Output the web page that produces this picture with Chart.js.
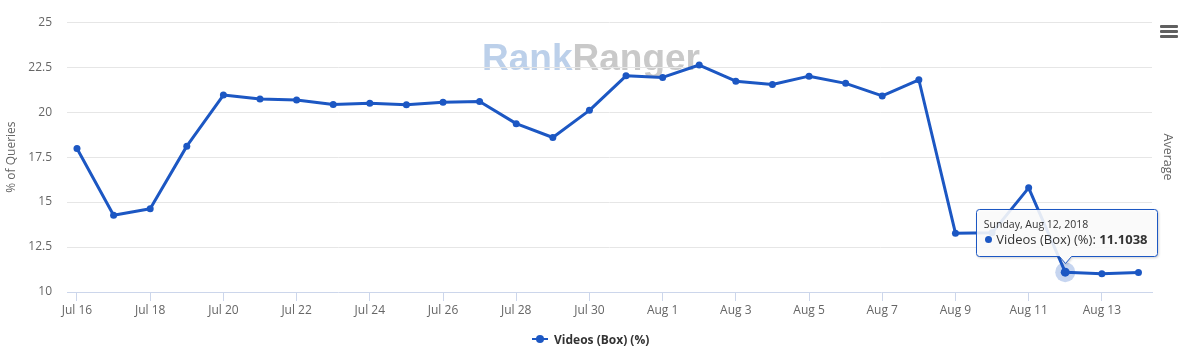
<!DOCTYPE html>
<html>
<head>
<meta charset="utf-8">
<script src="https://cdn.jsdelivr.net/npm/chart.js@4.4.1/dist/chart.umd.min.js"></script>
<style>
html,body{margin:0;padding:0;background:#fff;}
#wrap{position:relative;width:1192px;height:361px;overflow:hidden;font-family:'Open Sans',sans-serif;}
canvas{display:block;}
#menu{position:absolute;left:1160px;top:25px;width:18px;height:13px;}
#menu span{position:absolute;left:0;width:18px;height:2.6px;background:#606060;border-radius:1px;}
#legend{position:absolute;left:532px;top:331px;height:16px;display:flex;align-items:center;font-weight:bold;font-size:12px;color:#333;white-space:nowrap;}
#legend span{margin-left:6px;}
#tip{position:absolute;width:184px;height:58px;}
#tip svg{position:absolute;left:0;top:0;filter:drop-shadow(1px 1px 1px rgba(0,0,0,0.18));}
#tip .tt-title{position:absolute;left:8px;top:9px;font-size:10.5px;line-height:12px;color:#333;white-space:nowrap;}
#tip .tt-body{position:absolute;left:9.5px;top:22px;font-size:13px;line-height:16px;color:#333;white-space:nowrap;display:flex;align-items:center;}
#tip .dot{display:inline-block;width:7px;height:7px;border-radius:50%;margin-right:4px;}
</style>
</head>
<body>
<div id="wrap">
  <canvas id="c" width="1192" height="361" style="width:1192px;height:361px"></canvas>
  <div id="menu"><span style="top:0"></span><span style="top:5px"></span><span style="top:10px"></span></div>
  <div id="legend"></div>
  <div id="tip"></div>
</div>
<script>
const dates = ['Jul 16','Jul 17','Jul 18','Jul 19','Jul 20','Jul 21','Jul 22','Jul 23','Jul 24','Jul 25',
  'Jul 26','Jul 27','Jul 28','Jul 29','Jul 30','Jul 31','Aug 1','Aug 2','Aug 3','Aug 4',
  'Aug 5','Aug 6','Aug 7','Aug 8','Aug 9','Aug 10','Aug 11','Aug 12','Aug 13','Aug 14'];
const videosBox = [17.98, 14.27, 14.63, 18.11, 20.95, 20.73, 20.68, 20.42, 20.49, 20.41,
  20.55, 20.59, 19.36, 18.59, 20.1, 22.02, 21.93, 22.62, 21.72, 21.54,
  22.0, 21.6, 20.9, 21.8, 13.27, 13.29, 15.79, 11.1038, 11.02, 11.09];
const yTicks = [10, 12.5, 15, 17.5, 20, 22.5, 25];
const xTickIndex = [0, 2, 4, 6, 8, 10, 12, 14, 16, 18, 20, 22, 24, 26, 28];
const seriesName = 'Videos (Box) (%)';
const tooltipTitle = 'Sunday, Aug 12, 2018';
const hoverIndex = 27;
const yTitle = '% of Queries';
const y2Title = 'Average';

const blue = '#1c57c3';
Chart.defaults.font.family = "'Open Sans', sans-serif";

const watermark = {
  id: 'watermark',
  beforeDraw(c) {
    const g = c.ctx;
    g.save();
    g.font = 'bold 37px "Liberation Sans", Arial, sans-serif';
    g.textBaseline = 'alphabetic';
    const x0 = 482, y0 = 70;
    g.fillStyle = '#bcd0ea';
    g.fillText('Rank', x0, y0);
    const w = g.measureText('Rank').width;
    g.fillStyle = '#c9c9c9';
    g.fillText('Ranger', x0 + w, y0);
    g.restore();
  }
};
const halo = {
  id: 'halo',
  beforeDatasetsDraw(c) {
    const p = c.getDatasetMeta(0).data[hoverIndex];
    if (!p) return;
    const g = c.ctx;
    g.save();
    g.beginPath();
    g.arc(p.x, p.y, 10, 0, Math.PI * 2);
    g.fillStyle = 'rgba(28,87,195,0.25)';
    g.fill();
    g.restore();
  }
};

const chart = new Chart(document.getElementById('c'), {
  type: 'line',
  data: {
    datasets: [{
      label: seriesName,
      data: videosBox.map((v, i) => ({x: i, y: v})),
      borderColor: blue,
      backgroundColor: blue,
      borderWidth: 3,
      borderJoinStyle: 'round',
      borderCapStyle: 'round',
      tension: 0,
      fill: false,
      pointRadius: c => c.dataIndex === hoverIndex ? 4.5 : 3.5,
      pointBackgroundColor: blue,
      pointBorderWidth: 0,
      yAxisID: 'y'
    }]
  },
  options: {
    responsive: false,
    animation: false,
    devicePixelRatio: 1,
    events: [],
    layout: {padding: {top: 19, left: 0, right: 0, bottom: 0}},
    plugins: {legend: {display: false}, tooltip: {enabled: false}},
    scales: {
      x: {
        type: 'linear', min: -0.273, max: 29.37,
        afterBuildTicks: s => { s.ticks = xTickIndex.map(v => ({value: v})); },
        afterFit: s => { s.height = 69; },
        ticks: {autoSkip: false, maxRotation: 0, minRotation: 0, padding: 2, color: '#666',
          font: {size: 12}, callback: v => dates[v]},
        grid: {display: true, drawOnChartArea: false, drawTicks: true, tickLength: 9, color: '#ccd6eb'},
        border: {display: true, color: '#ccd6eb', width: 1}
      },
      y: {
        min: 10, max: 25,
        afterBuildTicks: s => { s.ticks = yTicks.map(v => ({value: v})); },
        afterFit: s => { s.width = 67; },
        ticks: {padding: 15, color: '#666', font: {size: 12}, callback: v => String(v)},
        grid: {color: c => (c.tick && c.tick.value === 10) ? 'rgba(0,0,0,0)' : '#e6e6e6', drawTicks: false},
        border: {display: false},
        title: {display: true, text: yTitle, color: '#666', font: {size: 12}, padding: {top: 4, bottom: 0}}
      },
      y1: {
        position: 'right', display: true, min: 0, max: 1,
        afterFit: s => { s.width = 40; },
        ticks: {display: false},
        grid: {display: false, drawTicks: false},
        border: {display: false},
        title: {display: true, text: y2Title, color: '#666', font: {size: 12.5}, padding: {top: 17, bottom: 0}}
      }
    }
  },
  plugins: [watermark, halo]
});

// legend
document.getElementById('legend').innerHTML =
  '<svg width="16" height="10"><line x1="0" y1="5" x2="16" y2="5" stroke="' + blue + '" stroke-width="2"/>' +
  '<circle cx="8" cy="5" r="4" fill="' + blue + '"/></svg><span></span>';
document.querySelector('#legend span').textContent = seriesName;

// tooltip
const tip = document.getElementById('tip');
tip.innerHTML =
  '<svg width="184" height="58"><path d="M3.5,0.5 H178.5 Q181.5,0.5 181.5,3.5 V44.5 Q181.5,47.5 178.5,47.5 H95.5 L89.5,54.5 L83.5,47.5 H3.5 Q0.5,47.5 0.5,44.5 V3.5 Q0.5,0.5 3.5,0.5 Z" fill="rgba(255,255,255,0.88)" stroke="' + blue + '" stroke-width="1"/></svg>' +
  '<div class="tt-title"></div><div class="tt-body"><span class="dot" style="background:' + blue + '"></span><span class="lbl"></span><b class="val"></b></div>';
tip.querySelector('.tt-title').textContent = tooltipTitle;
tip.querySelector('.lbl').textContent = seriesName + ':\u00a0';
tip.querySelector('.val').textContent = String(videosBox[hoverIndex]);
const hp = chart.getDatasetMeta(0).data[hoverIndex];
tip.style.left = (hp.x - 89.5) + 'px';
tip.style.top = (hp.y - 63) + 'px';
</script>
</body>
</html>
